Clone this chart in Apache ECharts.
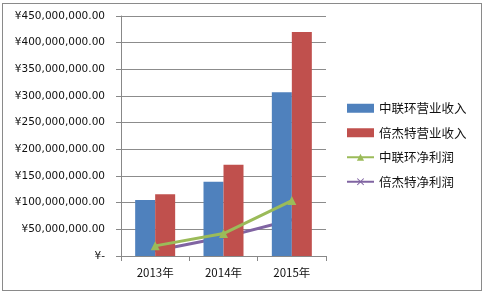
<!DOCTYPE html>
<html><head><meta charset="utf-8">
<script src="https://cdn.jsdelivr.net/npm/echarts@6/dist/echarts.min.js"></script>
<style>html,body{margin:0;padding:0;background:#fff}#c{width:484px;height:293px;box-sizing:border-box}
#frame{position:absolute;left:2px;top:3px;width:478px;height:286px;border:1px solid #8a8a8a;pointer-events:none}</style>
</head><body><div id="c"></div><div id="frame"></div>
<script>
const categories = ['2013年', '2014年', '2015年'];
const zlhRevenue = [105000000, 139000000, 307000000];
const bjtRevenue = [116000000, 171000000, 420000000];
const zlhProfit = [19000000, 42000000, 104000000];
const bjtProfit = [10000000, 35000000, 68000000];
const seriesNames = ['中联环营业收入', '倍杰特营业收入', '中联环净利润', '倍杰特净利润'];

const crossPath = 'path://M0,1L1,0L5,4L9,0L10,1L6,5L10,9L9,10L5,6L1,10L0,9L4,5Z';
const fmt = v => v === 0 ? '¥-' : '¥' + v.toLocaleString('en-US', {minimumFractionDigits: 2, maximumFractionDigits: 2});
const chart = echarts.init(document.getElementById('c'));
chart.setOption({
  animation: false,
  backgroundColor: '#fff',
  textStyle: {fontFamily: 'DejaVu Sans'},
  grid: {left: 121, right: 158, top: 16, bottom: 37},
  legend: {
    orient: 'vertical', left: 341, top: 97, itemWidth: 27, itemHeight: 9, itemGap: 12,
    textStyle: {fontSize: 12.5, color: '#111', fontFamily: 'Noto Sans CJK SC'},
    data: [
      {name: seriesNames[0], icon: 'rect'},
      {name: seriesNames[1], icon: 'rect'},
      {name: seriesNames[2]},
      {name: seriesNames[3]}
    ]
  },
  xAxis: {
    type: 'category', data: categories,
    axisLine: {lineStyle: {color: '#888'}},
    axisTick: {show: true, alignWithLabel: false, length: 5, lineStyle: {color: '#888'}},
    axisLabel: {fontSize: 11.5, color: '#111', margin: 11, fontFamily: 'Noto Sans CJK SC'}
  },
  yAxis: {
    type: 'value', min: 0, max: 450000000, interval: 50000000,
    axisLine: {show: true, lineStyle: {color: '#888'}},
    axisTick: {show: true, inside: false, length: 5, lineStyle: {color: '#888'}},
    splitLine: {lineStyle: {color: '#8c8c8c'}},
    axisLabel: {fontSize: 10.5, color: '#111', margin: 16, formatter: fmt}
  },
  series: [
    {name: seriesNames[0], type: 'bar', data: zlhRevenue, barWidth: 20, barGap: '0%', itemStyle: {color: '#4F81BD'}, z: 2},
    {name: seriesNames[1], type: 'bar', data: bjtRevenue, barWidth: 20, barGap: '0%', itemStyle: {color: '#C0504D'}, z: 2},
    {name: seriesNames[2], type: 'line', data: zlhProfit, symbol: 'triangle', symbolSize: 9,
     lineStyle: {color: '#9BBB59', width: 3}, itemStyle: {color: '#9BBB59'}, z: 4},
    {name: seriesNames[3], type: 'line', data: bjtProfit, symbol: crossPath, symbolSize: 8,
     lineStyle: {color: '#8064A2', width: 3}, itemStyle: {color: '#8064A2'}, z: 1}
  ]
});
</script></body></html>
